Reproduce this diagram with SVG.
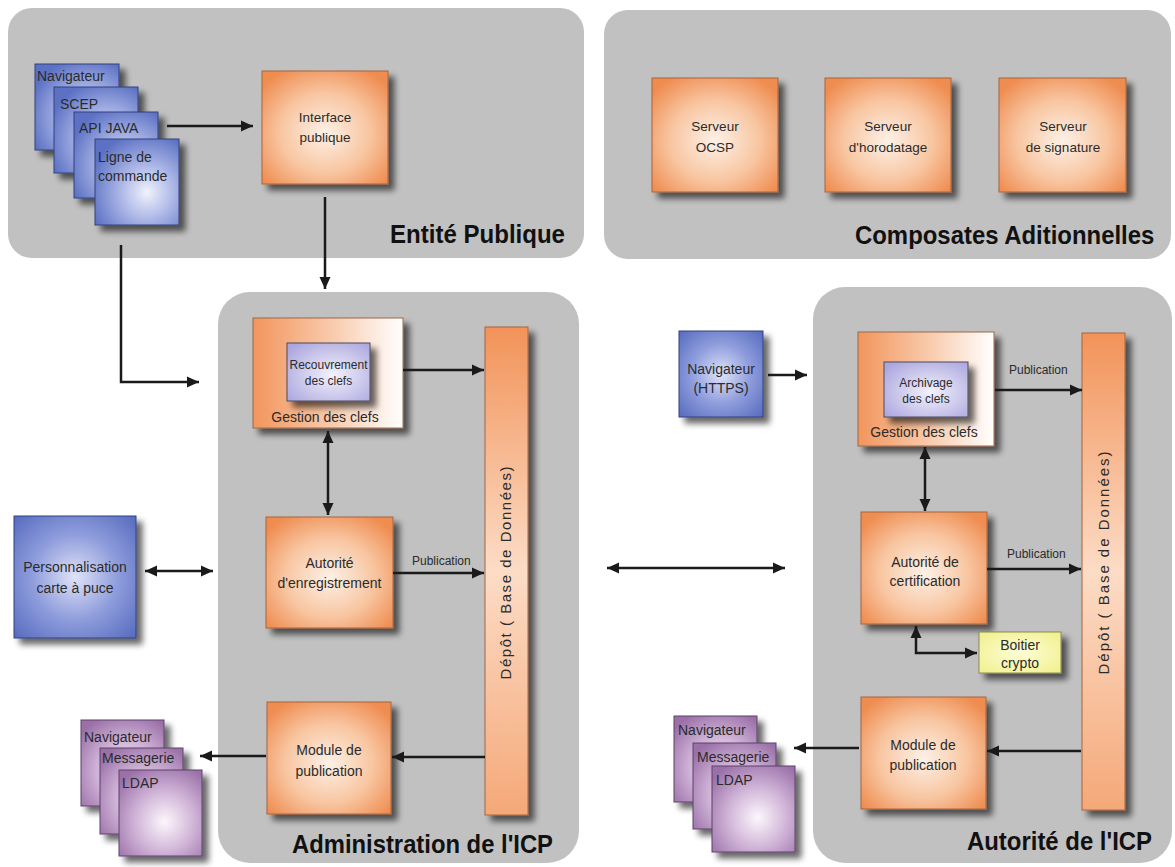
<svg xmlns="http://www.w3.org/2000/svg" width="1175" height="867" viewBox="0 0 1175 867">
<style>
.panel{fill:#c1c1c1}
.t{font-family:"Liberation Sans",Arial,sans-serif;font-size:14px;fill:#2b2b2b}
.s{font-size:12px}
.c{text-anchor:middle}
.big{font-family:"Liberation Sans",Arial,sans-serif;font-weight:bold;font-size:26px;fill:#111}
.ln{stroke:#1a1a1a;stroke-width:2.5;fill:none}
.or{fill:url(#gO);stroke:#a8643c;stroke-width:1}
.bl{fill:url(#gB);stroke:#33407e;stroke-width:1}
.bl2{fill:url(#gB2);stroke:#33407e;stroke-width:1}
.pu{fill:url(#gP);stroke:#5d4368;stroke-width:1}
.lv{fill:url(#gL);stroke:#4a4a5a;stroke-width:1}
.ye{fill:url(#gY);stroke:#8a8a50;stroke-width:1}
.gs{fill:url(#gG);stroke:#9a6a4a;stroke-width:1}
.db{fill:url(#gD);stroke:#a8643c;stroke-width:1}
</style>
<defs>
<filter id="sh" x="-20%" y="-20%" width="150%" height="150%">
<feGaussianBlur in="SourceAlpha" stdDeviation="3"/>
<feOffset dx="6" dy="6"/>
<feComponentTransfer><feFuncA type="linear" slope="0.6"/></feComponentTransfer>
<feMerge><feMergeNode/><feMergeNode in="SourceGraphic"/></feMerge>
</filter>
<radialGradient id="gO" cx="50%" cy="55%" r="65%"><stop offset="0" stop-color="#fdf1e7"/><stop offset="0.55" stop-color="#f8c5a0"/><stop offset="1" stop-color="#ef8c50"/></radialGradient>
<radialGradient id="gB" cx="62%" cy="62%" r="70%"><stop offset="0" stop-color="#f0f2fc"/><stop offset="0.5" stop-color="#a5b1e4"/><stop offset="1" stop-color="#5c71c3"/></radialGradient>
<radialGradient id="gB2" cx="50%" cy="50%" r="70%"><stop offset="0" stop-color="#dfe3f7"/><stop offset="0.5" stop-color="#8f9ddc"/><stop offset="1" stop-color="#566bbf"/></radialGradient>
<radialGradient id="gP" cx="55%" cy="60%" r="70%"><stop offset="0" stop-color="#fcf7fc"/><stop offset="0.5" stop-color="#d1b5d8"/><stop offset="1" stop-color="#9a70a8"/></radialGradient>
<radialGradient id="gL" cx="55%" cy="55%" r="70%"><stop offset="0" stop-color="#f3f2fc"/><stop offset="1" stop-color="#aaa5de"/></radialGradient>
<radialGradient id="gY" cx="50%" cy="50%" r="70%"><stop offset="0" stop-color="#fdfdd8"/><stop offset="1" stop-color="#f1f08a"/></radialGradient>
<linearGradient id="gG" x1="0" y1="0" x2="1" y2="0"><stop offset="0" stop-color="#f2955c"/><stop offset="0.55" stop-color="#f9cdb0"/><stop offset="1" stop-color="#ffffff"/></linearGradient>
<linearGradient id="gD" x1="0" y1="0" x2="0" y2="1"><stop offset="0" stop-color="#f29359"/><stop offset="0.5" stop-color="#fcdcc6"/><stop offset="1" stop-color="#f5a878"/></linearGradient>
<marker id="ah" viewBox="0 0 12 12" refX="12" refY="6" markerWidth="12" markerHeight="12" markerUnits="userSpaceOnUse" orient="auto-start-reverse"><path d="M0,0.5 L12,6 L0,11.5 z" fill="#1a1a1a"/></marker>
</defs>
<rect width="1175" height="867" fill="#ffffff"/>

<g id="panel-entite">
<rect class="panel" x="8" y="8" width="576" height="250" rx="24"/>
<text class="big" x="390" y="243" textLength="175" lengthAdjust="spacingAndGlyphs">Entité Publique</text>
</g>
<g id="panel-composantes">
<rect class="panel" x="604" y="10" width="567" height="249" rx="24"/>
<text class="big" transform="translate(855,244) scale(0.92,1)" x="0" y="0">Composates Aditionnelles</text>
</g>
<g id="panel-admin">
<rect class="panel" x="218" y="292" width="361" height="571" rx="32"/>
<text class="big" x="292" y="853" textLength="261" lengthAdjust="spacingAndGlyphs">Administration de l'ICP</text>
</g>
<g id="panel-autorite">
<rect class="panel" x="813" y="287" width="359" height="576" rx="32"/>
<text class="big" x="967" y="850" textLength="185" lengthAdjust="spacingAndGlyphs">Autorité de l'ICP</text>
</g>

<g id="clients-publics">
<rect class="bl" x="35" y="64" width="84" height="86" filter="url(#sh)"/>
<text class="t" x="37" y="81">Navigateur</text>
<rect class="bl" x="54" y="87" width="84" height="86" filter="url(#sh)"/>
<text class="t" x="60" y="109">SCEP</text>
<rect class="bl" x="74" y="112" width="84" height="86" filter="url(#sh)"/>
<text class="t" x="79" y="133">API JAVA</text>
<rect class="bl" x="95" y="139" width="84" height="86" filter="url(#sh)"/>
<text class="t" x="98" y="162">Ligne de</text>
<text class="t" x="98" y="181">commande</text>
</g>

<g id="interface-publique">
<rect class="or" x="262" y="71" width="126" height="113" filter="url(#sh)"/>
<text class="t c" x="325" y="122" style="font-size:13.5px">Interface</text>
<text class="t c" x="325" y="142" style="font-size:13.5px">publique</text>
</g>

<g id="serveur-ocsp">
<rect class="or" x="652" y="78" width="126" height="114" filter="url(#sh)"/>
<text class="t c" x="715" y="131" style="font-size:13.5px">Serveur</text>
<text class="t c" x="715" y="152" style="font-size:13.5px">OCSP</text>
</g>
<g id="serveur-horodatage">
<rect class="or" x="825" y="78" width="126" height="114" filter="url(#sh)"/>
<text class="t c" x="888" y="131" style="font-size:13.5px">Serveur</text>
<text class="t c" x="888" y="152" style="font-size:13.5px">d'horodatage</text>
</g>
<g id="serveur-signature">
<rect class="or" x="999" y="78" width="127" height="114" filter="url(#sh)"/>
<text class="t c" x="1063" y="131" style="font-size:13.5px">Serveur</text>
<text class="t c" x="1063" y="152" style="font-size:13.5px">de signature</text>
</g>

<g id="admin-gestion-clefs">
<rect class="gs" x="253" y="318" width="150" height="110" filter="url(#sh)"/>
<rect class="lv" x="287" y="343" width="83" height="58" filter="url(#sh)"/>
<text class="t c s" x="328.5" y="369">Recouvrement</text>
<text class="t c s" x="328.5" y="385">des clefs</text>
<text class="t c" x="325" y="422">Gestion des clefs</text>
</g>
<g id="admin-depot">
<rect class="db" x="485" y="327" width="43" height="488" filter="url(#sh)"/>
<text class="t c" style="font-size:15px" transform="translate(511,573) rotate(-90)" textLength="213" lengthAdjust="spacing">Dépôt ( Base de Données)</text>
</g>
<g id="admin-autorite-enregistrement">
<rect class="or" x="266" y="517" width="127" height="111" filter="url(#sh)"/>
<text class="t c" x="329.5" y="568">Autorité</text>
<text class="t c" x="329.5" y="588">d'enregistrement</text>
</g>
<g id="admin-module-publication">
<rect class="or" x="267" y="702" width="124" height="112" filter="url(#sh)"/>
<text class="t c" x="329" y="755">Module de</text>
<text class="t c" x="329" y="776">publication</text>
</g>
<g id="personnalisation">
<rect class="bl2" x="14" y="516" width="122" height="122" filter="url(#sh)"/>
<text class="t c" x="75" y="572">Personnalisation</text>
<text class="t c" x="75" y="593">carte à puce</text>
</g>
<g id="admin-clients">
<rect class="pu" x="81" y="720" width="83" height="86" filter="url(#sh)"/>
<text class="t" x="84" y="742">Navigateur</text>
<rect class="pu" x="100" y="748" width="83" height="86" filter="url(#sh)"/>
<text class="t" x="102" y="763">Messagerie</text>
<rect class="pu" x="119" y="770" width="83" height="86" filter="url(#sh)"/>
<text class="t" x="122" y="788">LDAP</text>
</g>

<g id="navigateur-https">
<rect class="bl2" x="679" y="331" width="84" height="86" filter="url(#sh)"/>
<text class="t c" x="721" y="374">Navigateur</text>
<text class="t c" x="721" y="393">(HTTPS)</text>
</g>
<g id="aut-gestion-clefs">
<rect class="gs" x="858" y="332" width="136" height="114" filter="url(#sh)"/>
<rect class="lv" x="884" y="362" width="84" height="55" filter="url(#sh)"/>
<text class="t c s" x="926" y="387">Archivage</text>
<text class="t c s" x="926" y="403">des clefs</text>
<text class="t c" x="924" y="437">Gestion des clefs</text>
</g>
<g id="aut-depot">
<rect class="db" x="1082" y="333" width="43" height="477" filter="url(#sh)"/>
<text class="t c" style="font-size:15px" transform="translate(1109,563) rotate(-90)" textLength="223" lengthAdjust="spacing">Dépôt ( Base de Données)</text>
</g>
<g id="aut-autorite-certification">
<rect class="or" x="861" y="512" width="126" height="112" filter="url(#sh)"/>
<text class="t c" x="925" y="567">Autorité de</text>
<text class="t c" x="925" y="586">certification</text>
</g>
<g id="boitier-crypto">
<rect class="ye" x="979" y="632" width="82" height="41" filter="url(#sh)"/>
<text class="t c" x="1020" y="650">Boitier</text>
<text class="t c" x="1020" y="668">crypto</text>
</g>
<g id="aut-module-publication">
<rect class="or" x="861" y="697" width="125" height="112" filter="url(#sh)"/>
<text class="t c" x="923" y="750">Module de</text>
<text class="t c" x="923" y="770">publication</text>
</g>
<g id="aut-clients">
<rect class="pu" x="674" y="716" width="83" height="86" filter="url(#sh)"/>
<text class="t" x="678" y="735">Navigateur</text>
<rect class="pu" x="693" y="743" width="83" height="86" filter="url(#sh)"/>
<text class="t" x="697" y="762">Messagerie</text>
<rect class="pu" x="712" y="766" width="83" height="86" filter="url(#sh)"/>
<text class="t" x="716" y="785">LDAP</text>
</g>

<g id="connectors">
<line class="ln" x1="167" y1="126" x2="253" y2="126" marker-end="url(#ah)"/>
<line class="ln" x1="325" y1="197" x2="325" y2="289" marker-end="url(#ah)"/>
<path class="ln" d="M121,245 V382 H199" marker-end="url(#ah)"/>
<line class="ln" x1="403" y1="370" x2="484" y2="370" marker-end="url(#ah)"/>
<line class="ln" x1="328" y1="431" x2="328" y2="515" marker-start="url(#ah)" marker-end="url(#ah)"/>
<line class="ln" x1="393" y1="573" x2="484" y2="573" marker-end="url(#ah)"/>
<text class="t s" x="412" y="565">Publication</text>
<line class="ln" x1="145" y1="571" x2="213" y2="571" marker-start="url(#ah)" marker-end="url(#ah)"/>
<line class="ln" x1="485" y1="757" x2="392" y2="757" marker-end="url(#ah)"/>
<line class="ln" x1="266" y1="756" x2="200" y2="756" marker-end="url(#ah)"/>
<line class="ln" x1="768" y1="375" x2="807" y2="375" marker-end="url(#ah)"/>
<line class="ln" x1="995" y1="390" x2="1082" y2="390" marker-end="url(#ah)"/>
<text class="t s" x="1009" y="374">Publication</text>
<line class="ln" x1="925" y1="447" x2="925" y2="511" marker-start="url(#ah)" marker-end="url(#ah)"/>
<line class="ln" x1="987" y1="569" x2="1081" y2="569" marker-end="url(#ah)"/>
<text class="t s" x="1007" y="558">Publication</text>
<line class="ln" x1="607" y1="568" x2="785" y2="568" marker-start="url(#ah)" marker-end="url(#ah)"/>
<path class="ln" d="M916,626 V653 H977" marker-start="url(#ah)" marker-end="url(#ah)"/>
<line class="ln" x1="1081" y1="751" x2="987" y2="751" marker-end="url(#ah)"/>
<line class="ln" x1="859" y1="748" x2="794" y2="748" marker-end="url(#ah)"/>
</g>
</svg>
